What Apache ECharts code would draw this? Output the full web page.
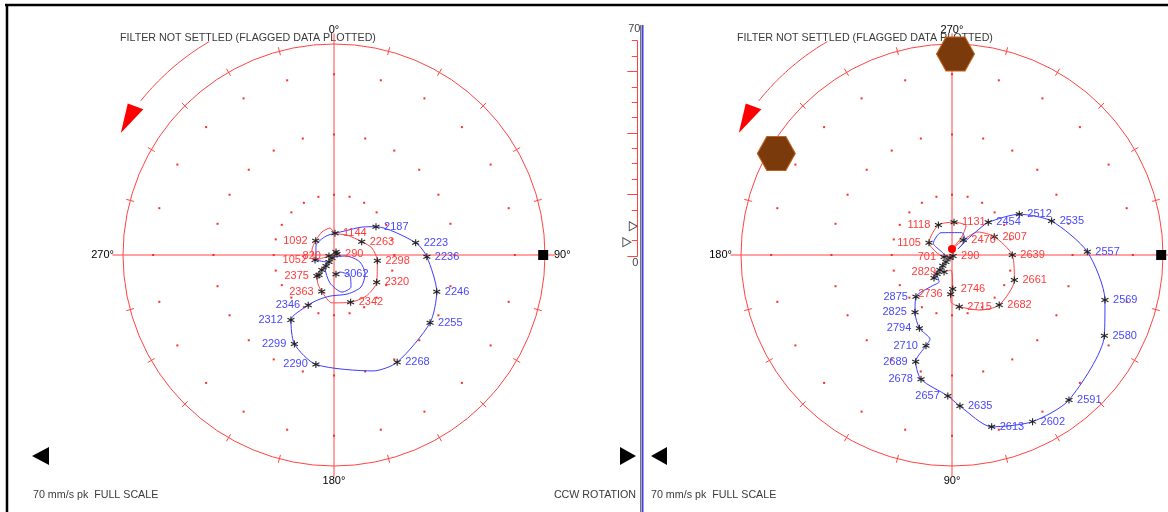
<!DOCTYPE html>
<html>
<head>
<meta charset="utf-8">
<script src="https://cdn.jsdelivr.net/npm/echarts@6/dist/echarts.min.js"></script>
<style>
  html, body { margin: 0; padding: 0; background: #fff; }
  #c { width: 1168px; height: 512px; }
</style>
</head>
<body>
<div id="c"></div>
<script>
// ---------- Left polar plot (0° at top, phase increasing clockwise) ----------
// Blue trace: speed labels (rpm, '' = unlabelled vertex), amplitude (mm/s pk), phase (deg)
const leftBlueRpm   = ['', '', '', '', '', '', '2187', '2223', '2236', '2246', '2255', '2268', '', '2290', '2299', '2312', '2346',
                       '', '', '', '', '', '', '', '', '', '', '', '', '', '', '3062'];
const leftBlueAmp   = [3.3, 6.1, 6.7, 6.8, 8.8, 13.1, 16.8, 27.4, 30.8, 36.2, 39.0, 41.3, 40.6, 36.8, 32.3, 25.9, 18.7,
                       15.8, 13.7, 13.7, 13.9, 12.1, 8.9, 4.0, 1.2, 5.2, 9.4, 12.6, 12.0, 8.8, 6.0, 6.4];
const leftBluePhase = [225, 257.5, 296.6, 337.2, 24.6, 45, 56.0, 81.4, 91.1, 109.7, 125.2, 149.5, 161.3, 189.4, 204.0, 213.5, 207.2,
                       199.6, 185.6, 160.3, 139.8, 121.5, 105.1, 94.8, 213.7, 214.7, 188.1, 167.8, 152, 142.7, 160.6, 174.1];

// Red trace
const leftRedRpm   = ['290', '820', '1052', '', '1092', '', '', '1144', '', '2263', '', '2298', '2320', '', '2342', '', '2363', '', '2375', ''];
const leftRedAmp   = [1.05, 1.7, 6.5, 7.5, 7.7, 8.6, 9.05, 7.2, 7.9, 10.2, 12.8, 14.5, 16.8, 17.3, 16.6, 15.9, 12.8, 11.0, 9.0, 4.0];
const leftRedPhase = [71.6, 258.7, 255.3, 282.8, 308.0, 332.4, 351.6, 2.6, 33.0, 64.3, 79.6, 97.5, 122.6, 142.0, 160.6, 182.4, 198.5, 208.9, 219.0, 221.6];

// Low-speed cluster (unlabelled samples)
const leftSlowAmp   = [1.2, 1.2, 2.85, 4.5, 6.4, 8.3];
const leftSlowPhase = [33.7, 213.7, 215.5, 216.0, 218.7, 216.9];

// ---------- Right polar plot (0° at right, phase increasing clockwise) ----------
const rightBlueRpm   = ['', '', '', '', '', '', '', '', '', '2454', '2512', '2535', '2557', '2569', '2580', '2591', '2602', '2613',
                        '2635', '2657', '2678', '2689', '2710', '', '2794', '2825', '2875', '', '', '', '', ''];
const rightBlueAmp   = [1.7, 3.5, 7.3, 8.25, 8.1, 6.6, 2.8, 7.0, 12.0, 16.2, 26.1, 34.9, 44.9, 52.9, 57.2, 61.8, 61.4, 58.5,
                        50.2, 46.8, 42.5, 37.4, 31.3, 28.9, 26.6, 22.6, 18.3, 12.2, 9.9, 8.6, 10.4, 5.9];
const rightBluePhase = [143.1, 196.7, 212.0, 243.7, 293.5, 310.9, 315, 314.4, 316.1, 318.0, 328.8, 341.2, 358.6, 16.4, 27.9, 51.1, 64.2, 77.0,
                        87.0, 91.7, 104.0, 108.8, 106.0, 104.6, 114.0, 122.9, 130.8, 122.8, 115.7, 125.5, 129.8, 132.7];

const rightRedRpm   = ['290', '701', '', '1105', '1118', '1131', '', '', '', '2470', '', '2607', '2639', '2661', '2682', '', '2715', '',
                       '2736', '2746', '', '2829'];
const rightRedAmp   = [0.5, 2.7, 5.4, 8.65, 10.9, 10.9, 10.7, 6.4, 2.0, 6.2, 11.5, 15.3, 20.0, 22.3, 22.8, 20.5, 17.3, 15.6,
                       13.0, 11.3, 5.0, 6.2];
const rightRedPhase = [45, 166.0, 190.6, 208.1, 245.5, 273.5, 295.8, 297.9, 270, 307.0, 318.5, 336.6, 0, 21.9, 46.6, 63.0, 82.0, 91.2,
                       91.9, 88.8, 93.8, 115.2];

const rightSlowAmp   = [1.2, 3.1, 4.7, 6.4, 8.0, 9.7];
const rightSlowPhase = [123.7, 130.6, 130.7, 128.7, 128.3, 128.0];

// Current 1X vector (filled red dot) on the right plot
const rightNowAmp = [2.0];
const rightNowPhase = [270];

// Alarm hexagons on the right plot
const alarmAmp = [66.7, 67.3];
const alarmPhase = [271, 210];

// Shaft reference squares
const refAmp = [69.4];
const leftRefPhase = [90];
const rightRefPhase = [0];

// Amplitude bar between the plots
const barValues = [9.7, 4.5];
const barTickMajor = [0, 20, 40, 60];
const fullScale = 70;
const gridRings = [20, 40, 60];

// Angle-axis labels
const leftTopLabel = 0;

// Label sides
const leftSideLabels = new Set(['1092', '1052', '820', '2363', '2375', '2346', '2312', '2299', '2290',
                                '1118', '1105', '701', '2736', '2829', '2657', '2678', '2689', '2710', '2794', '2825', '2875']);

const FONT = '"Liberation Sans", Arial, Helvetica, sans-serif';
const RED = '#ff4444';
const BLUE_LINE = '#3c3cff';
const BLUE_TEXT = '#4848ff';
const RED_TEXT = '#ff3c3c';
const STAR = 'path://M5,0L5,10M0.7,2.5L9.3,7.5M0.7,7.5L9.3,2.5';
const HEX = 'path://M0,10L5.5,0L16.5,0L22,10L16.5,20L5.5,20Z';
const TRI_R = 'path://M0,0L10,6L0,12Z';

// Outer arrow showing direction of rotation (angles given for the left plot)
const ARROW = { r: 82, from: 329.7, to: 308.5, head: [[84.9, 306.3], [79.6, 307.4], [81.5, 299.8]] };

function decorRenderer(rot) {
  return function (params, api) {
    const P = (r, a) => api.coord([r, a]);
    const kids = [];
    [0, 90, 180, 270].forEach(function (a) {
      const c = P(0, a), e = P(fullScale + 3.5, a);
      kids.push({ type: 'line', shape: { x1: c[0], y1: c[1], x2: e[0], y2: e[1] }, style: { stroke: RED, lineWidth: 1 } });
    });
    for (let a = 15; a < 360; a += 15) {
      if (a % 90 === 0) continue;
      const p1 = P(fullScale - 1.35, a), p2 = P(fullScale + 1.35, a);
      kids.push({ type: 'line', shape: { x1: p1[0], y1: p1[1], x2: p2[0], y2: p2[1] }, style: { stroke: RED, lineWidth: 1 } });
    }
    const arc = [];
    for (let a = ARROW.from; a >= ARROW.to; a -= 1) arc.push(P(ARROW.r, a + rot));
    arc.push(P(ARROW.r, ARROW.to + rot));
    kids.push({ type: 'polyline', shape: { points: arc }, style: { stroke: RED, lineWidth: 1, fill: null } });
    kids.push({ type: 'polygon', shape: { points: ARROW.head.map(function (h) { return P(h[0], h[1] + rot); }) }, style: { fill: '#ff0000' } });
    return { type: 'group', children: kids };
  };
}

function dotsSeries(polarIndex) {
  const data = [];
  gridRings.forEach(function (r) { for (let a = 0; a < 360; a += 15) data.push([r, a]); });
  return { type: 'scatter', coordinateSystem: 'polar', polarIndex: polarIndex, data: data, symbol: 'rect', symbolSize: 2,
           itemStyle: { color: '#ff2a2a', opacity: 1 }, silent: true, z: 2 };
}

function traceSeries(polarIndex, rpm, amp, phase, lineColor, textColor) {
  const pts = amp.map(function (r, i) { return [r, phase[i]]; });
  const marks = [];
  rpm.forEach(function (s, i) {
    if (!s) return;
    marks.push({ value: [amp[i], phase[i]], name: s, label: { position: leftSideLabels.has(s) ? 'left' : 'right' } });
  });
  return [
    { type: 'line', coordinateSystem: 'polar', polarIndex: polarIndex, data: pts, symbol: 'none', showSymbol: false,
      smooth: 0.25, lineStyle: { color: lineColor, width: 1 }, silent: true, z: 3 },
    { type: 'scatter', coordinateSystem: 'polar', polarIndex: polarIndex, data: marks, symbol: STAR, symbolSize: 7,
      itemStyle: { color: 'rgba(0,0,0,0)', borderColor: '#222', borderWidth: 1.1, opacity: 1 },
      label: { show: true, formatter: function (p) { return p.name; }, color: textColor, fontSize: 11, fontFamily: FONT, distance: 4 },
      silent: true, z: 5 }
  ];
}

function slowSeries(polarIndex, amp, phase) {
  return { type: 'line', coordinateSystem: 'polar', polarIndex: polarIndex, data: amp.map(function (r, i) { return [r, phase[i]]; }),
           symbol: STAR, symbolSize: 7, showSymbol: true, lineStyle: { color: '#555', width: 1 },
           itemStyle: { color: 'rgba(0,0,0,0)', borderColor: '#222', borderWidth: 1.1 }, silent: true, z: 4 };
}

function angleAxis(polarIndex, startAngle, colorFn) {
  return {
    polarIndex: polarIndex, type: 'value', min: 0, max: 360, interval: 90, startAngle: startAngle, clockwise: true,
    axisLine: { show: true, lineStyle: { color: RED, width: 1 } },
    axisTick: { show: false }, splitLine: { show: false },
    axisLabel: { show: true, margin: 9, fontSize: 11, fontFamily: FONT, color: colorFn,
                 formatter: function (v) { return v === 360 ? '' : v + '°'; } }
  };
}

const chart = echarts.init(document.getElementById('c'), null, { renderer: 'canvas' });

const series = [];
series.push({ type: 'custom', coordinateSystem: 'polar', polarIndex: 0, data: [[0, 0]], renderItem: decorRenderer(0), silent: true, z: 1 });
series.push({ type: 'custom', coordinateSystem: 'polar', polarIndex: 1, data: [[0, 0]], renderItem: decorRenderer(-90), silent: true, z: 1 });
series.push(dotsSeries(0), dotsSeries(1));
series.push(slowSeries(0, leftSlowAmp, leftSlowPhase), slowSeries(1, rightSlowAmp, rightSlowPhase));
series.push.apply(series, traceSeries(0, leftRedRpm, leftRedAmp, leftRedPhase, RED, RED_TEXT));
series.push.apply(series, traceSeries(0, leftBlueRpm, leftBlueAmp, leftBluePhase, BLUE_LINE, BLUE_TEXT));
series.push.apply(series, traceSeries(1, rightRedRpm, rightRedAmp, rightRedPhase, RED, RED_TEXT));
series.push.apply(series, traceSeries(1, rightBlueRpm, rightBlueAmp, rightBluePhase, BLUE_LINE, BLUE_TEXT));
series.push({ type: 'scatter', coordinateSystem: 'polar', polarIndex: 1, data: rightNowAmp.map(function (r, i) { return [r, rightNowPhase[i]]; }),
              symbol: 'circle', symbolSize: 8, itemStyle: { color: '#ff0000', opacity: 1 }, silent: true, z: 6 });
series.push({ type: 'scatter', coordinateSystem: 'polar', polarIndex: 0, data: [[refAmp[0], leftRefPhase[0]]],
              symbol: 'rect', symbolSize: 10, itemStyle: { color: '#000', opacity: 1 }, silent: true, z: 6 });
series.push({ type: 'scatter', coordinateSystem: 'polar', polarIndex: 1, data: [[refAmp[0], rightRefPhase[0]]],
              symbol: 'rect', symbolSize: 10, itemStyle: { color: '#000', opacity: 1 }, silent: true, z: 6 });
series.push({ type: 'scatter', coordinateSystem: 'polar', polarIndex: 1, data: alarmAmp.map(function (r, i) { return [r, alarmPhase[i]]; }),
              symbol: HEX, symbolSize: [38, 34], itemStyle: { color: '#7a3a0c', borderColor: '#c0621e', borderWidth: 1, opacity: 1 }, silent: true, z: 10 });
// amplitude bar markers
series.push({ type: 'scatter', xAxisIndex: 0, yAxisIndex: 0, clip: false,
              data: barValues.map(function (v, i) { return { value: [1, v], symbolOffset: [i === 0 ? -4 : -10.5, 0] }; }),
              symbol: TRI_R, symbolSize: [8, 9], itemStyle: { color: '#fff', borderColor: '#555', borderWidth: 1, opacity: 1 }, silent: true, z: 6 });

const barRect = { left: 600, top: 40.7, width: 37.3, height: 215.3 };

const option = {
  animation: false,
  backgroundColor: '#fff',
  polar: [
    { center: [334, 255], radius: 211 },
    { center: [952, 255], radius: 211 }
  ],
  angleAxis: [
    angleAxis(0, 90, function (v) { return Number(v) === leftTopLabel ? '#7a2a3a' : '#e8365d'; }),
    angleAxis(1, 0, function () { return '#e8365d'; })
  ],
  radiusAxis: [
    { polarIndex: 0, type: 'value', min: 0, max: fullScale, show: false },
    { polarIndex: 1, type: 'value', min: 0, max: fullScale, show: false }
  ],
  grid: [Object.assign({}, barRect), Object.assign({}, barRect)],
  xAxis: [
    { gridIndex: 0, type: 'value', min: 0, max: 1, show: false },
    { gridIndex: 1, type: 'value', min: 0, max: 1, show: false }
  ],
  yAxis: [
    { gridIndex: 0, type: 'value', min: 0, max: fullScale, interval: 5, position: 'right',
      axisLine: { show: true, onZero: false, lineStyle: { color: RED, width: 1 } },
      axisTick: { show: true, inside: true, length: 5.5, lineStyle: { color: RED } },
      axisLabel: { show: false }, splitLine: { show: false },
      name: String(fullScale), nameLocation: 'end', nameGap: 6,
      nameTextStyle: { color: '#444', fontSize: 11, fontFamily: FONT, align: 'center', verticalAlign: 'bottom', padding: [0, 6, 0, 0] } },
    { gridIndex: 1, type: 'value', min: 0, max: fullScale, interval: 20, position: 'right',
      axisLine: { show: false, onZero: false },
      axisTick: { show: true, inside: true, length: 10, customValues: barTickMajor, lineStyle: { color: RED } },
      axisLabel: { show: false }, splitLine: { show: false },
      name: '0', nameLocation: 'start', nameGap: 1,
      nameTextStyle: { color: '#444', fontSize: 11, fontFamily: FONT, align: 'center', verticalAlign: 'top', padding: [0, 4, 0, 0] } }
  ],
  graphic: [
    { type: 'line', shape: { x1: 5, y1: 5, x2: 1168, y2: 5 }, style: { stroke: '#000', lineWidth: 2.5 }, z: 0 },
    { type: 'line', shape: { x1: 7, y1: 4, x2: 7, y2: 512 }, style: { stroke: '#000', lineWidth: 2.5 }, z: 0 },
    { type: 'line', shape: { x1: 640.5, y1: 25, x2: 640.5, y2: 512 }, style: { stroke: '#777', lineWidth: 1 }, z: 0 },
    { type: 'line', shape: { x1: 642.5, y1: 25, x2: 642.5, y2: 512 }, style: { stroke: '#4444d4', lineWidth: 2 }, z: 0 },
    { type: 'text', x: 120, y: 38.5, style: { text: 'FILTER NOT SETTLED (FLAGGED DATA PLOTTED)', fill: '#3a3a3a', font: '10.7px ' + FONT, verticalAlign: 'middle' }, z: 0 },
    { type: 'text', x: 737, y: 38.5, style: { text: 'FILTER NOT SETTLED (FLAGGED DATA PLOTTED)', fill: '#3a3a3a', font: '10.7px ' + FONT, verticalAlign: 'middle' }, z: 0 },
    { type: 'text', x: 33, y: 495.5, style: { text: '70 mm/s pk  FULL SCALE', fill: '#3a3a3a', font: '10.7px ' + FONT, verticalAlign: 'middle' }, z: 0 },
    { type: 'text', x: 636, y: 495.5, style: { text: 'CCW ROTATION', fill: '#3a3a3a', font: '10.7px ' + FONT, verticalAlign: 'middle', align: 'right' }, z: 0 },
    { type: 'text', x: 651, y: 495.5, style: { text: '70 mm/s pk  FULL SCALE', fill: '#3a3a3a', font: '10.7px ' + FONT, verticalAlign: 'middle' }, z: 0 },
    { type: 'polygon', shape: { points: [[49, 447], [49, 465], [32, 456]] }, style: { fill: '#000' }, z: 0 },
    { type: 'polygon', shape: { points: [[620, 447], [620, 465], [636, 456]] }, style: { fill: '#000' }, z: 0 },
    { type: 'polygon', shape: { points: [[667, 447], [667, 465], [651, 456]] }, style: { fill: '#000' }, z: 0 }
  ],
  series: series
};

chart.setOption(option);
</script>
</body>
</html>
